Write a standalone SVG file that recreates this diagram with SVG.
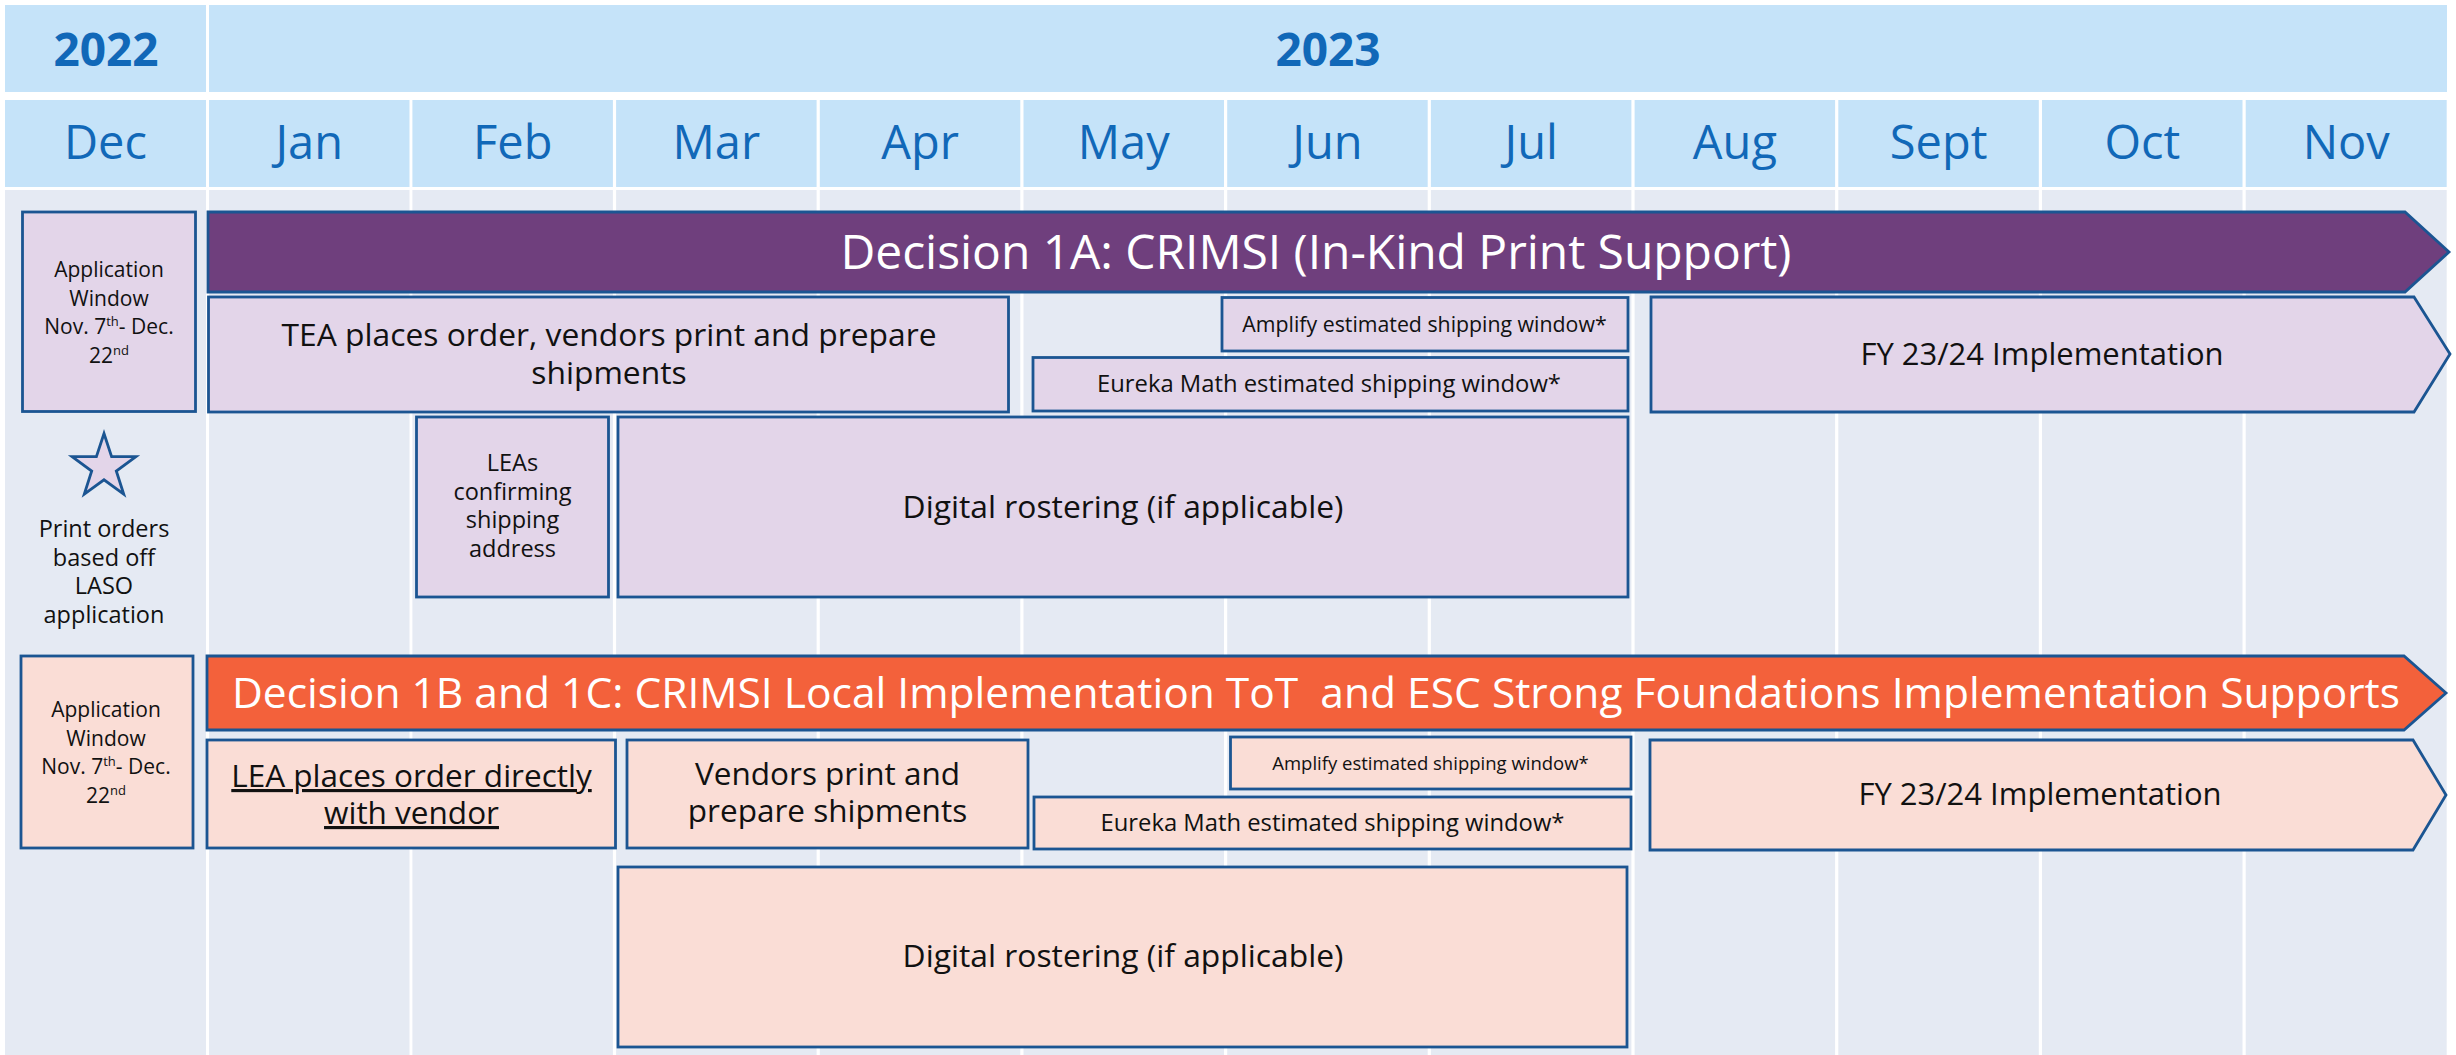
<svg xmlns="http://www.w3.org/2000/svg" width="2456" height="1055" viewBox="0 0 2456 1055">
<style>
  .hdr { fill: #C5E3F9; }
  .col { fill: #E5EAF3; }
  .yr { font-family: "Open Sans", "Noto Sans", sans-serif; font-weight: bold; font-size: 46px; fill: #1168B8; text-anchor: middle; }
  .mo { font-family: "Open Sans", "Noto Sans", sans-serif; font-size: 47px; fill: #1168B8; text-anchor: middle; }
  .lav { fill: #E3D5E9; stroke: #1B5592; stroke-width: 2.8; }
  .pch { fill: #FADDD6; stroke: #1B5592; stroke-width: 2.8; }
  .purple { fill: #6F3F7D; stroke: #1B5592; stroke-width: 2.8; }
  .orange { fill: #F3613B; stroke: #1B5592; stroke-width: 2.8; }
  .t { font-family: "Open Sans", "Noto Sans", sans-serif; fill: #111111; text-anchor: middle; }
  .w { font-family: "Open Sans", "Noto Sans", sans-serif; fill: #FFFFFF; text-anchor: middle; }
  .u { text-decoration: underline; }
</style>
<rect x="0" y="0" width="2456" height="1055" fill="#FFFFFF"/>
<g id="header">
  <rect class="hdr" x="5" y="5" width="201" height="87"/>
  <rect class="hdr" x="209" y="5" width="2238" height="87"/>
  <text class="yr" x="106" y="66">2022</text>
  <text class="yr" x="1328" y="66">2023</text>
  <rect class="hdr" x="5" y="100" width="201" height="87"/>
  <rect class="hdr" x="209" y="100" width="200.5" height="87"/>
  <rect class="hdr" x="412.4" y="100" width="200.5" height="87"/>
  <rect class="hdr" x="616.1" y="100" width="200.5" height="87"/>
  <rect class="hdr" x="819.8" y="100" width="200.5" height="87"/>
  <rect class="hdr" x="1023.5" y="100" width="200.5" height="87"/>
  <rect class="hdr" x="1227.2" y="100" width="200.5" height="87"/>
  <rect class="hdr" x="1430.9" y="100" width="200.5" height="87"/>
  <rect class="hdr" x="1634.6" y="100" width="200.5" height="87"/>
  <rect class="hdr" x="1838.3" y="100" width="200.5" height="87"/>
  <rect class="hdr" x="2042" y="100" width="200.5" height="87"/>
  <rect class="hdr" x="2245.7" y="100" width="201" height="87"/>
  <text class="mo" x="105.5" y="159">Dec</text>
  <text class="mo" x="309.2" y="159">Jan</text>
  <text class="mo" x="512.7" y="159">Feb</text>
  <text class="mo" x="716.4" y="159">Mar</text>
  <text class="mo" x="920.1" y="159">Apr</text>
  <text class="mo" x="1123.8" y="159">May</text>
  <text class="mo" x="1327.5" y="159">Jun</text>
  <text class="mo" x="1531.2" y="159">Jul</text>
  <text class="mo" x="1734.9" y="159">Aug</text>
  <text class="mo" x="1938.6" y="159">Sept</text>
  <text class="mo" x="2142.3" y="159">Oct</text>
  <text class="mo" x="2346.2" y="159">Nov</text>
</g>
<g id="columns">
  <rect class="col" x="5" y="190" width="201" height="865"/>
  <rect class="col" x="209" y="190" width="200.5" height="865"/>
  <rect class="col" x="412.4" y="190" width="200.5" height="865"/>
  <rect class="col" x="616.1" y="190" width="200.5" height="865"/>
  <rect class="col" x="819.8" y="190" width="200.5" height="865"/>
  <rect class="col" x="1023.5" y="190" width="200.5" height="865"/>
  <rect class="col" x="1227.2" y="190" width="200.5" height="865"/>
  <rect class="col" x="1430.9" y="190" width="200.5" height="865"/>
  <rect class="col" x="1634.6" y="190" width="200.5" height="865"/>
  <rect class="col" x="1838.3" y="190" width="200.5" height="865"/>
  <rect class="col" x="2042" y="190" width="200.5" height="865"/>
  <rect class="col" x="2245.7" y="190" width="201" height="865"/>
</g>
<g id="connectors"></g>

<g id="app-window-1a">
  <rect class="lav" x="22.5" y="212" width="173" height="199.5"/>
  <text class="t" font-size="21" x="109" y="277">Application</text>
  <text class="t" font-size="21" x="109" y="306">Window</text>
  <text class="t" font-size="21" x="109" y="334">Nov. 7<tspan font-size="13" dy="-8">th</tspan><tspan dy="8">- Dec.</tspan></text>
  <text class="t" font-size="21" x="109" y="363">22<tspan font-size="13" dy="-8">nd</tspan></text>
</g>
<g id="decision-1a">
  <polygon class="purple" points="208,212 2405,212 2449,252 2405,292 208,292"/>
  <text class="w" font-size="48" x="1316" y="269" textLength="951">Decision 1A: CRIMSI (In-Kind Print Support)</text>
</g>
<g id="tea-order">
  <rect class="lav" x="208.5" y="297" width="800" height="115"/>
  <text class="t" font-size="31.8" x="609" y="346">TEA places order, vendors print and prepare</text>
  <text class="t" font-size="31.8" x="609" y="384">shipments</text>
</g>
<g id="amplify-1a">
  <rect class="lav" x="1222" y="297.5" width="406" height="53.5"/>
  <text class="t" font-size="21.3" x="1424.5" y="332">Amplify estimated shipping window*</text>
</g>
<g id="eureka-1a">
  <rect class="lav" x="1033" y="357.5" width="595" height="53.5"/>
  <text class="t" font-size="23.8" x="1329" y="391.5">Eureka Math estimated shipping window*</text>
</g>
<g id="fy-1a">
  <polygon class="lav" points="1651,297 2414,297 2450,354 2414,412 1651,412"/>
  <text class="t" font-size="31" x="2042" y="365">FY 23/24 Implementation</text>
</g>
<g id="star">
  <polygon class="lav" points="104,433.5 111.6,456.6 135.9,456.6 116.3,471 123.7,494.1 104,479.8 84.3,494.1 91.7,471 72.1,456.6 96.4,456.6"/>
  <text class="t" font-size="23.5" x="104" y="536.7">Print orders</text>
  <text class="t" font-size="23.5" x="104" y="565.5">based off</text>
  <text class="t" font-size="23.5" x="104" y="594.3">LASO</text>
  <text class="t" font-size="23.5" x="104" y="622.7">application</text>
</g>
<g id="leas-confirming">
  <rect class="lav" x="416.5" y="417" width="192" height="180"/>
  <text class="t" font-size="23.5" x="512.5" y="471">LEAs</text>
  <text class="t" font-size="23.5" x="512.5" y="500">confirming</text>
  <text class="t" font-size="23.5" x="512.5" y="528">shipping</text>
  <text class="t" font-size="23.5" x="512.5" y="557">address</text>
</g>
<g id="digital-1a">
  <rect class="lav" x="618" y="417" width="1010" height="180"/>
  <text class="t" font-size="31.8" x="1123" y="518">Digital rostering (if applicable)</text>
</g>

<g id="app-window-1b">
  <rect class="pch" x="21" y="656" width="172" height="192"/>
  <text class="t" font-size="21" x="106" y="717">Application</text>
  <text class="t" font-size="21" x="106" y="746">Window</text>
  <text class="t" font-size="21" x="106" y="774">Nov. 7<tspan font-size="13" dy="-8">th</tspan><tspan dy="8">- Dec.</tspan></text>
  <text class="t" font-size="21" x="106" y="803">22<tspan font-size="13" dy="-8">nd</tspan></text>
</g>
<g id="decision-1b">
  <polygon class="orange" points="207,656 2404,656 2446,693 2404,730 207,730"/>
  <text class="w" font-size="42.5" x="1316" y="708" textLength="2168" xml:space="preserve">Decision 1B and 1C: CRIMSI Local Implementation ToT  and ESC Strong Foundations Implementation Supports</text>
</g>
<g id="lea-order">
  <rect class="pch" x="207" y="740" width="408.5" height="108"/>
  <text class="t u" font-size="31.5" x="411.5" y="787">LEA places order directly</text>
  <text class="t u" font-size="31.5" x="411.5" y="824">with vendor</text>
</g>
<g id="vendors-print">
  <rect class="pch" x="627" y="740" width="401" height="108"/>
  <text class="t" font-size="31.5" x="827.5" y="785">Vendors print and</text>
  <text class="t" font-size="31.5" x="827.5" y="822">prepare shipments</text>
</g>
<g id="amplify-1b">
  <rect class="pch" x="1230.5" y="737" width="400.5" height="52"/>
  <text class="t" font-size="18.5" x="1430.5" y="770">Amplify estimated shipping window*</text>
</g>
<g id="eureka-1b">
  <rect class="pch" x="1034" y="797" width="597" height="52"/>
  <text class="t" font-size="23.8" x="1332.5" y="831">Eureka Math estimated shipping window*</text>
</g>
<g id="fy-1b">
  <polygon class="pch" points="1650,740 2413,740 2446,795 2413,850 1650,850"/>
  <text class="t" font-size="31" x="2040" y="805">FY 23/24 Implementation</text>
</g>
<g id="digital-1b">
  <rect class="pch" x="618" y="867" width="1009" height="180"/>
  <text class="t" font-size="31.8" x="1123" y="967">Digital rostering (if applicable)</text>
</g>
</svg>
